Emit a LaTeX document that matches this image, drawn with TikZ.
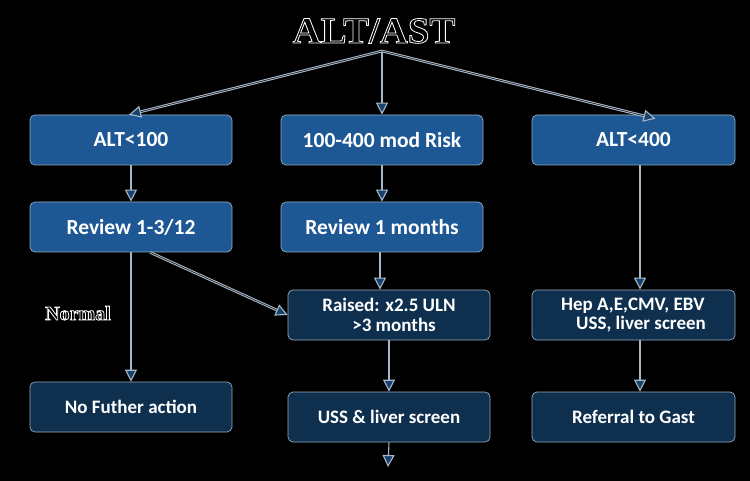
\documentclass[tikz,border=0pt]{standalone}
\usepackage{fontspec}
\setmainfont{Carlito}
\newfontfamily\titlefont{Liberation Serif}
\usetikzlibrary{arrows.meta}
\definecolor{topblue}{RGB}{30,88,148}
\definecolor{lowblue}{RGB}{14,47,78}
\definecolor{edgec}{RGB}{150,170,190}
\definecolor{linec}{RGB}{168,184,200}
\definecolor{tipfill}{RGB}{22,66,110}
\newcommand{\strokedtext}[1]{\special{pdf:code 1 Tr 0.8 w}#1\special{pdf:code 0 Tr}}
\tikzset{
  topbox/.style={draw=edgec, line width=0.7pt, fill=topblue, rounded corners=5pt,
    minimum width=202pt, minimum height=50pt, text=white,
    font=\fontsize{21.5}{24}\selectfont\bfseries, inner sep=0pt},
  lowbox/.style={draw=edgec, line width=0.7pt, fill=lowblue, rounded corners=5pt,
    minimum width=202pt, minimum height=50pt, text=white,
    font=\fontsize{19}{19.5}\selectfont\bfseries, inner sep=0pt},
  conn/.style={draw=linec, line width=1.1pt,
    -{Triangle[length=12pt,width=12pt,fill=tipfill]}},
  dconn/.style={conn, double=black, double distance=0.5pt},
  outl/.style={text=white, inner sep=0pt},
}
\begin{document}
\begin{tikzpicture}[x=1pt,y=-1pt]
\fill[black] (0,0) rectangle (750,481);
\useasboundingbox (0,0) rectangle (750,481);
% title and label
\node[outl, anchor=base] (title) at (374,43)
  {\titlefont\bfseries\fontsize{37}{40}\selectfont\scalebox{1.05}[1]{\strokedtext{ALT/AST}}};
\node[outl, anchor=base west] (normal) at (45,320)
  {\titlefont\bfseries\fontsize{20}{22}\selectfont\strokedtext{Normal}};
% boxes
\node[topbox] (a1) at (131,140) {ALT<100};
\node[topbox] (b1) at (382,140) {100-400 mod Risk};
\node[topbox, minimum width=203pt] (c1) at (633.5,140) {ALT<400};
\node[topbox] (a2) at (131,227) {Review 1-3/12};
\node[topbox] (b2) at (382,227) {Review 1 months};
\node[lowbox, align=left] (b3) at (389,315) {Raised: x2.5 ULN\\\hspace*{30pt}>3 months};
\node[lowbox, align=left, minimum width=203pt] (c3) at (633.5,315) {Hep A,E,CMV, EBV\\\hspace*{15pt}USS, liver screen};
\node[lowbox] (a4) at (131,407) {No Futher action};
\node[lowbox] (b4) at (389,417) {USS \& liver screen};
\node[lowbox, minimum width=203pt] (c4) at (633.5,417) {Referral to Gast};
% connectors
\coordinate (top) at (382,51);
\coordinate (endb) at (388,467);
\draw[conn] (top) -- (b1.north);
\draw[dconn] (top) -- ([xshift=-2pt]a1.north);
\draw[dconn] (top) -- ([xshift=22pt,yshift=-4pt]c1.north);
\draw[conn] (a1) -- (a2);
\draw[conn] (b1) -- (b2);
\draw[conn] ([xshift=6.5pt]c1.south) -- ([xshift=6.5pt]c3.north);
\draw[conn] ([xshift=-2pt]b2.south) -- ([xshift=-9pt]b3.north);
\draw[dconn] ([xshift=19pt]a2.south) -- (b3.west);
\draw[conn] (a2) -- (a4);
\draw[conn] (b3) -- (b4);
\draw[conn] ([xshift=6.5pt]c3.south) -- ([xshift=6.5pt]c4.north);
\draw[conn] (b4.south) -- (endb);
\end{tikzpicture}
\end{document}
